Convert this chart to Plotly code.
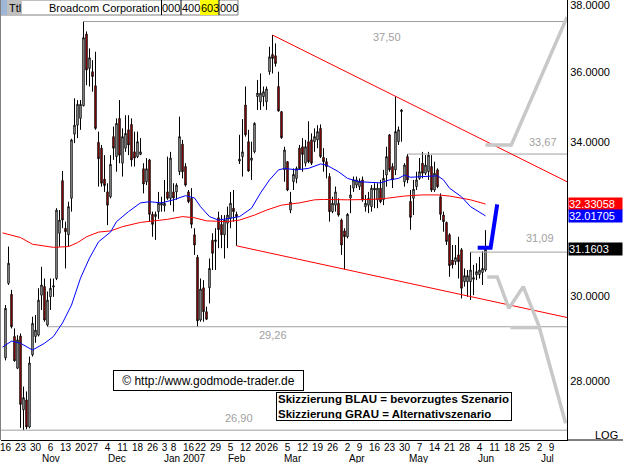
import numpy as np
import pandas as pd
import plotly.graph_objects as go

# ---------------- data ----------------
holidays = ["2006-11-23", "2006-12-25", "2007-01-01", "2007-01-02",
            "2007-01-15", "2007-02-19", "2007-04-06", "2007-07-04"]

opens = [28.53, 30.31, 30.04, 29.03, 28.29, 29.04, 27.35, 27.57, 26.97, 28.60,
         29.03, 29.06, 30.02, 30.23, 29.30, 29.98, 30.22, 30.43, 31.57, 32.95,
         31.70, 31.53, 32.48, 34.22, 34.47, 34.66, 35.02, 37.12, 36.10, 36.00,
         35.59, 33.99, 33.83, 32.99, 32.65, 32.52, 34.15, 33.60, 34.66, 33.42,
         33.83, 34.34, 34.49, 33.73, 33.60, 33.66, 33.27, 32.92, 33.51, 32.06,
         32.00, 32.13, 32.30, 32.28, 32.65, 32.48, 32.65, 32.65, 33.19, 33.94,
         33.33, 32.65, 32.48, 31.53, 30.96, 29.42, 30.20, 29.62, 30.20, 31.39,
         31.36, 31.97, 31.80, 31.53, 31.83, 31.95, 32.22, 32.06, 33.48, 33.60,
         35.04, 34.01, 33.50, 33.73, 35.28, 35.13, 35.28, 35.13, 36.00, 36.51,
         36.47, 35.57, 34.85, 33.24, 33.46, 32.17, 32.92, 33.01, 33.83, 33.87,
         33.42, 34.01, 34.06, 34.01, 34.06, 34.38, 33.58, 33.46, 33.06, 32.13,
         32.30, 32.35, 31.91, 31.63, 31.48, 32.49, 32.75, 32.83, 32.79, 32.97,
         32.26, 32.30, 32.26, 32.70, 32.44, 32.75, 32.44, 33.10, 34.20, 33.33,
         33.24, 34.01, 34.85, 32.92, 33.60, 32.40, 32.48, 32.79, 33.01, 33.42,
         33.15, 33.19, 33.33, 32.70, 33.24, 32.52, 32.04, 31.85, 31.53, 30.89,
         30.85, 31.02, 31.15, 30.35, 30.35, 30.35, 30.41, 30.52, 30.53, 30.58,
         30.64]
highs = [29.78, 31.23, 30.15, 29.22, 29.06, 29.10, 27.87, 27.76, 28.56, 29.50,
         29.54, 30.19, 30.72, 30.43, 30.11, 30.43, 30.43, 32.22, 32.17, 33.21,
         31.87, 32.39, 34.09, 35.23, 35.18, 35.18, 37.50, 37.20, 36.69, 36.34,
         36.59, 34.29, 33.92, 33.64, 32.88, 33.64, 34.43, 34.66, 35.18, 34.38,
         34.75, 34.75, 34.66, 34.29, 34.29, 34.11, 33.42, 33.56, 33.54, 32.13,
         32.13, 32.65, 32.52, 32.97, 33.60, 33.73, 32.88, 32.88, 34.71, 34.06,
         33.42, 32.70, 32.75, 31.70, 31.02, 30.43, 30.39, 29.74, 30.93, 31.57,
         31.70, 32.13, 32.04, 32.04, 32.26, 32.65, 32.70, 32.13, 34.20, 34.64,
         35.57, 34.34, 34.01, 34.55, 35.76, 35.95, 35.57, 35.57, 36.74, 37.09,
         36.84, 36.00, 34.87, 33.87, 33.48, 32.65, 33.28, 33.33, 33.92, 34.11,
         34.06, 34.58, 34.24, 34.38, 34.47, 34.49, 33.83, 33.56, 33.15, 32.52,
         32.79, 32.48, 31.95, 31.70, 32.09, 32.83, 33.06, 33.06, 33.01, 33.06,
         32.57, 32.65, 32.83, 32.88, 32.88, 32.97, 33.24, 33.87, 34.22, 33.42,
         35.28, 34.43, 34.92, 33.42, 33.67, 32.70, 32.97, 33.19, 33.56, 33.73,
         33.64, 33.73, 33.64, 33.46, 33.28, 32.61, 32.13, 31.87, 31.57, 31.27,
         31.27, 31.48, 31.19, 30.68, 30.64, 31.09, 30.77, 30.81, 30.97, 31.11,
         31.65]
lows = [28.47, 30.27, 29.22, 28.44, 28.27, 26.95, 26.90, 26.92, 26.94, 28.56,
        28.88, 29.03, 29.66, 29.38, 29.26, 29.66, 29.98, 30.39, 31.23, 31.70,
        30.68, 31.23, 32.13, 33.97, 34.11, 34.34, 35.00, 35.61, 35.57, 35.42,
        34.34, 32.79, 32.79, 32.65, 31.78, 32.48, 33.51, 33.19, 33.42, 33.06,
        33.73, 33.64, 33.33, 33.33, 33.56, 33.64, 32.61, 32.83, 31.87, 31.48,
        31.40, 31.94, 32.13, 32.13, 32.44, 32.30, 32.13, 32.44, 33.10, 33.01,
        32.79, 32.35, 31.70, 31.02, 29.26, 29.38, 29.38, 29.42, 29.82, 30.64,
        30.64, 31.19, 31.19, 30.93, 31.19, 31.70, 31.87, 31.25, 33.40, 33.06,
        34.15, 33.19, 32.97, 33.69, 34.90, 34.90, 35.00, 34.90, 35.91, 35.95,
        36.15, 34.85, 34.09, 32.92, 32.67, 32.09, 32.70, 32.88, 33.24, 33.19,
        33.33, 33.42, 33.37, 33.73, 33.83, 33.56, 33.19, 33.01, 31.87, 32.09,
        32.13, 32.00, 31.02, 30.66, 31.44, 32.09, 32.65, 32.75, 32.70, 32.39,
        32.13, 32.09, 32.13, 32.22, 32.22, 32.35, 32.30, 32.79, 33.19, 32.75,
        33.10, 33.92, 34.01, 32.79, 32.88, 31.66, 32.04, 32.70, 32.97, 33.01,
        33.10, 32.97, 32.65, 32.65, 32.75, 31.91, 31.61, 31.27, 30.47, 30.68,
        30.77, 30.43, 29.94, 30.23, 29.98, 29.90, 30.02, 30.39, 30.43, 30.27,
        30.60]
closes = [29.70, 30.81, 29.26, 28.46, 28.95, 27.47, 27.62, 26.97, 28.41, 29.34,
          29.18, 29.90, 30.27, 29.42, 29.90, 30.19, 30.25, 32.17, 31.91, 31.91,
          31.61, 32.26, 34.06, 34.47, 35.06, 35.06, 37.01, 36.05, 36.41, 35.86,
          34.38, 33.54, 32.88, 32.82, 32.30, 33.39, 33.83, 34.52, 33.64, 34.15,
          34.24, 33.92, 33.51, 33.56, 34.01, 33.73, 32.86, 33.27, 32.06, 31.80,
          32.06, 32.35, 32.35, 32.35, 32.48, 33.56, 32.49, 32.83, 34.15, 33.19,
          32.83, 32.39, 31.80, 31.27, 29.40, 30.17, 29.62, 29.44, 30.68, 31.06,
          31.40, 31.66, 31.53, 31.91, 32.04, 32.35, 32.13, 32.00, 33.53, 33.73,
          34.20, 33.21, 33.56, 34.52, 35.38, 35.38, 35.42, 35.50, 36.44, 36.39,
          36.24, 34.87, 34.12, 33.78, 32.70, 32.38, 33.12, 33.28, 33.27, 33.66,
          33.87, 33.46, 33.42, 34.15, 34.29, 33.60, 33.46, 33.33, 32.13, 32.35,
          32.65, 32.04, 31.27, 31.48, 32.06, 32.57, 32.97, 32.97, 32.94, 32.44,
          32.35, 32.48, 32.75, 32.75, 32.75, 32.39, 33.01, 33.60, 33.24, 32.97,
          34.29, 34.34, 34.90, 33.37, 32.97, 31.98, 32.72, 32.97, 33.19, 33.15,
          33.37, 33.64, 32.70, 33.15, 32.79, 32.06, 31.87, 31.36, 30.75, 30.77,
          30.95, 30.85, 30.19, 30.50, 30.50, 30.64, 30.45, 30.60, 30.64, 30.68,
          31.16]

# moving averages (bar index, value)
ma50_idx = [-1, 2, 5, 9, 13, 16, 19, 22, 25, 28, 31, 35, 37, 41, 45, 48, 52, 56,
            60, 63, 65, 68, 71, 75, 78, 82, 85, 88, 91, 93, 97, 101, 105, 107,
            111, 114, 118, 125, 128, 131, 133, 135, 139, 144, 146, 148, 152, 155, 160]
ma50_val = [28.78, 28.92, 28.87, 28.71, 28.87, 29.03, 29.35, 29.78, 30.44, 30.94,
            31.35, 31.60, 31.87, 32.13, 32.36, 32.39, 32.36, 32.44, 32.55, 32.49,
            32.26, 32.00, 31.91, 31.97, 32.00, 32.22, 32.62, 32.97, 33.24, 33.28,
            33.24, 33.28, 33.40, 33.37, 33.19, 33.01, 32.92, 32.89, 32.97, 33.01,
            33.10, 33.04, 33.06, 33.08, 32.97, 32.75, 32.52, 32.26, 32.02]
ma200_idx = [-1, 5, 9, 16, 21, 24, 27, 31, 35, 39, 45, 49, 54, 59, 63, 67, 74, 78,
             83, 87, 92, 98, 103, 106, 114, 122, 127, 133, 139, 144, 148, 155, 160]
ma200_val = [31.58, 31.46, 31.29, 31.21, 31.23, 31.33, 31.48, 31.60, 31.63, 31.74,
             31.85, 31.89, 31.93, 32.00, 31.97, 31.89, 31.87, 31.91, 32.04, 32.17,
             32.30, 32.36, 32.44, 32.45, 32.44, 32.45, 32.48, 32.54, 32.57, 32.57,
             32.54, 32.44, 32.33]

levels = [37.50, 33.67, 31.09, 29.26, 26.90]
level_start = [26, 134, 155, 14, -1.6]
level_label_pos = [127.2, 179.2, 178.3, 89.3, 77.8]
level_label_shift = [-15, 12, 14, -8, 12]

trend_up_idx = [89, 187.2]
trend_up_val = [37.09, 32.92]
trend_dn_idx = [77, 187.2]
trend_dn_val = [31.25, 29.48]

blue_idx = [157.4, 161.7, 163.9]
blue_val = [31.20, 31.20, 32.32]
gray_up_idx = [160, 168.6, 187.2]
gray_up_val = [33.92, 33.92, 37.64]
gray_dn_idx = [160.6, 163.9, 167.8, 172.6, 177.8, 186.7]
gray_dn_val = [30.47, 30.47, 29.70, 30.23, 29.28, 27.05]
gray_flat_idx = [168.3, 177.8]
gray_flat_val = [29.24, 29.24]

last_ma200 = 32.33058
last_ma50 = 32.01705
last_close = 31.1603
yticks = [28, 30, 34, 36, 38]
months = ["Nov", "Dec", "Jan 2007", "Feb", "Mar", "Apr", "May", "Jun", "Jul"]
month_pos = [15, 37, 59.7, 77, 95.7, 117.3, 137.7, 160.3, 180.7]

# ---------------- calendar / ticks ----------------
cal = pd.bdate_range("2006-10-16", "2007-07-13")
cal = cal[~cal.isin(pd.to_datetime(holidays))]
n = len(opens)
xs = np.arange(n)

tickvals, ticktext = [], []
prev = None
for i, d in enumerate(cal):
    wk = d.to_period("W")
    if wk != prev:
        if i <= 183:
            tickvals.append(i)
            ticktext.append(str(d.day))
        prev = wk

XMIN = -1.5
XMAX = XMIN + 566 / 3.0
YMIN, YMAX = 26.686, 38.162
FONT = "Liberation Sans, Arial, sans-serif"


def px(X):
    return (X - 1) / 566.0


def py(Y):
    return (440 - Y) / 440.0


fig = go.Figure()

# level lines
for lv, st in zip(levels, level_start):
    fig.add_trace(go.Scatter(x=[st, XMAX], y=[lv, lv], mode="lines",
                             line=dict(color="#a0a0a0", width=1), hoverinfo="skip"))

# moving averages
fig.add_trace(go.Scatter(x=ma200_idx, y=ma200_val, mode="lines",
                         line=dict(color="#ff0000", width=1), hoverinfo="skip"))
fig.add_trace(go.Scatter(x=ma50_idx, y=ma50_val, mode="lines",
                         line=dict(color="#0000ff", width=1), hoverinfo="skip"))

# trend lines
fig.add_trace(go.Scatter(x=trend_up_idx, y=trend_up_val, mode="lines",
                         line=dict(color="#ff0000", width=1), hoverinfo="skip"))
fig.add_trace(go.Scatter(x=trend_dn_idx, y=trend_dn_val, mode="lines",
                         line=dict(color="#ff0000", width=1), hoverinfo="skip"))

# scenarios
for gx, gy in [(gray_up_idx, gray_up_val), (gray_dn_idx, gray_dn_val),
               (gray_flat_idx, gray_flat_val)]:
    fig.add_trace(go.Scatter(x=gx, y=gy, mode="lines",
                             line=dict(color="#c8c8c8", width=3.5), hoverinfo="skip"))
fig.add_trace(go.Scatter(x=blue_idx, y=blue_val, mode="lines",
                         line=dict(color="#0000ff", width=4), hoverinfo="skip"))

# candles
fig.add_trace(go.Candlestick(
    x=xs, open=opens, high=highs, low=lows, close=closes,
    increasing=dict(fillcolor="#ffffff", line=dict(color="#000000", width=1)),
    decreasing=dict(fillcolor="#ff0000", line=dict(color="#000000", width=1)),
    whiskerwidth=0, hoverinfo="skip"))

ann = []
# level labels
for lv, pos, sh in zip(levels, level_label_pos, level_label_shift):
    ann.append(dict(x=pos, y=np.log10(lv), xref="x", yref="y",
                    text=f"{lv:.2f}".replace(".", ","), showarrow=False,
                    yshift=sh, font=dict(family=FONT, size=11, color="#a0a0a0")))
# month labels
for m, p in zip(months, month_pos):
    ann.append(dict(x=p, y=py(458), xref="x", yref="paper", text=m,
                    showarrow=False, xanchor="center", yanchor="middle",
                    font=dict(family=FONT, size=10, color="#000000")))
# right value boxes
for val, bg, txt in [(last_ma200, "#ff0000", f"{last_ma200:.5f}"),
                     (last_ma50, "#0000ff", f"{last_ma50:.5f}"),
                     (last_close, "#000000", f"{last_close:.4f}")]:
    ann.append(dict(x=px(568), y=np.log10(val), xref="paper", yref="y",
                    text=txt, showarrow=False, xanchor="left", yanchor="middle",
                    align="left", width=53, height=12, borderpad=0, bgcolor=bg,
                    font=dict(family=FONT, size=11, color="#ffffff")))
ann.append(dict(x=px(620), y=py(435), xref="paper", yref="paper", text="LOG",
                showarrow=False, xanchor="right", yanchor="middle",
                font=dict(family=FONT, size=11, color="#000000")))
# copyright box
ann.append(dict(x=px(208.3), y=py(380.8), xref="paper", yref="paper",
                text="\u00a9 http://www.godmode-trader.de", showarrow=False,
                xanchor="center", yanchor="middle",
                width=187, height=17, borderpad=1, bordercolor="#000000",
                borderwidth=1, bgcolor="#ffffff",
                font=dict(family=FONT, size=12, color="#000000")))
# scenario legend box
ann.append(dict(x=px(394.3), y=py(406.5), xref="paper", yref="paper",
                text="<b>Skizzierung BLAU = bevorzugtes Szenario</b><br>"
                     "<b>Skizzierung GRAU = Alternativszenario</b>",
                showarrow=False, align="left", xanchor="center", yanchor="middle",
                width=232, height=25, borderpad=1,
                bordercolor="#000000", borderwidth=1, bgcolor="#ffffff",
                font=dict(family=FONT, size=11.5, color="#000000")))
# title bar texts
for txt, cx in [("Ttl", 14.5), ("Broadcom Corporation", 104),
                ("000", 171), ("400", 190.5), ("603", 209.5), ("000", 228.5)]:
    ann.append(dict(x=px(cx), y=py(7.5), xref="paper", yref="paper", text=txt,
                    showarrow=False, xanchor="center", yanchor="middle",
                    font=dict(family=FONT, size=11, color="#000000")))

shapes = []
# title bar
shapes.append(dict(type="rect", xref="paper", yref="paper", x0=px(0), x1=px(238),
                   y0=py(15), y1=py(0), line=dict(color="#808080", width=1),
                   fillcolor="#ffffff"))
shapes.append(dict(type="rect", xref="paper", yref="paper", x0=px(0), x1=px(7),
                   y0=py(15), y1=py(0), line=dict(width=0), fillcolor="#9fb6d6"))
shapes.append(dict(type="rect", xref="paper", yref="paper", x0=px(7), x1=px(22),
                   y0=py(15), y1=py(0), line=dict(width=0), fillcolor="#c0c0c0"))
shapes.append(dict(type="rect", xref="paper", yref="paper", x0=px(200), x1=px(218.5),
                   y0=py(15), y1=py(0), line=dict(width=0), fillcolor="#ffff00"))
for sx in [161.5, 181, 219]:
    shapes.append(dict(type="line", xref="paper", yref="paper", x0=px(sx), x1=px(sx),
                       y0=py(15), y1=py(0), line=dict(color="#000000", width=1)))
# left border
shapes.append(dict(type="line", xref="paper", yref="paper", x0=px(0.5), x1=px(0.5),
                   y0=py(440), y1=py(0), line=dict(color="#808080", width=1)))
# axis line extension under the right panel
shapes.append(dict(type="line", xref="paper", yref="paper", x0=px(567), x1=px(623),
                   y0=0, y1=0, line=dict(color="#000000", width=1)))

fig.update_layout(
    width=623, height=463,
    margin=dict(l=1, r=56, t=0, b=23, pad=0, autoexpand=False),
    paper_bgcolor="#ffffff", plot_bgcolor="#ffffff",
    showlegend=False, boxgap=1 / 3.0,
    annotations=ann, shapes=shapes,
    font=dict(family=FONT, size=11, color="#000000"),
)
fig.update_xaxes(range=[XMIN, XMAX], tickmode="array", tickvals=tickvals,
                 ticktext=ticktext, tickangle=0, showgrid=False, zeroline=False,
                 showline=True, linecolor="#000000", linewidth=1, ticks="",
                 ticklabeloverflow="allow", ticklabelstandoff=-2,
                 tickfont=dict(family=FONT, size=10, color="#000000"),
                 rangeslider=dict(visible=False), fixedrange=True, automargin=False)
fig.update_yaxes(type="log", range=[np.log10(YMIN), np.log10(YMAX)], side="right",
                 tickmode="array", tickvals=yticks,
                 ticktext=[f"{v:.4f}" for v in yticks], showgrid=False,
                 zeroline=False, showline=True, linecolor="#000000", linewidth=1,
                 ticks="", ticklabeloverflow="allow",
                 tickfont=dict(family=FONT, size=11, color="#000000"),
                 fixedrange=True, automargin=False)

fig.write_html("out.html", config={"displayModeBar": False},
               post_script="document.body.style.margin='0px';")
